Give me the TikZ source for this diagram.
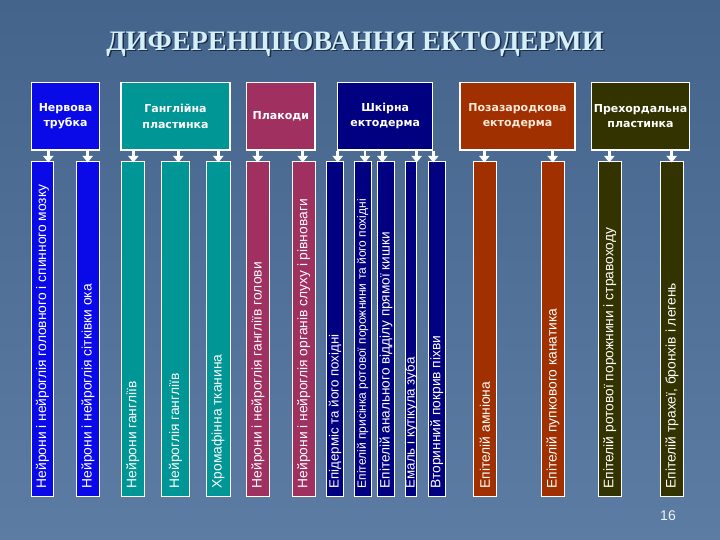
\documentclass[tikz,border=0pt]{standalone}
\usepackage{fontspec}
\setmainfont{Liberation Sans}
\newfontfamily\titlefont{Liberation Serif}
\newfontfamily\hdrfont{DejaVu Sans}
\usetikzlibrary{arrows.meta}
\definecolor{bgtop}{RGB}{68,100,140}
\definecolor{bgbot}{RGB}{92,124,164}
\definecolor{titlec}{RGB}{214,240,250}
\definecolor{shadowc}{RGB}{30,45,70}
\definecolor{cnerv}{RGB}{10,10,232}
\definecolor{cgang}{RGB}{0,150,150}
\definecolor{cplak}{RGB}{160,48,96}
\definecolor{cskin}{RGB}{0,0,128}
\definecolor{cextra}{RGB}{160,48,0}
\definecolor{cprech}{RGB}{51,51,0}
\definecolor{cream}{RGB}{255,232,215}
\tikzset{
  hdr/.style={draw=white, line width=1.2pt, inner sep=2pt, minimum height=67.7pt,
    align=center, text=white, font=\hdrfont\bfseries\fontsize{11}{15.5}\selectfont},
  barbox/.style={draw=white, line width=1pt, minimum height=334pt, inner sep=0pt},
  bartext/.style={rotate=90, anchor=west, inner sep=0pt, text=white,
    font=\fontsize{13.8}{15}\selectfont},
  arr/.style={draw=white, line width=2.6pt, -{Triangle[width=10pt,length=6.5pt]}, shorten >=-1pt}
}
\begin{document}
\begin{tikzpicture}[x=1pt,y=-1pt]
\shade[top color=bgtop, bottom color=bgbot] (0,0) rectangle (720,540);
\useasboundingbox (0,0) rectangle (720,540);
% title
\node[text=shadowc, font=\titlefont\bfseries\fontsize{28.2}{30}\selectfont] at (356.5,45.5) {ДИФЕРЕНЦІЮВАННЯ ЕКТОДЕРМИ};
\node[text=titlec, font=\titlefont\bfseries\fontsize{28.2}{30}\selectfont] (title) at (355,44) {ДИФЕРЕНЦІЮВАННЯ ЕКТОДЕРМИ};
% header boxes
\node[hdr, fill=cnerv, minimum width=67.6pt] (nt) at (65.5,116.2) {Нервова\\трубка};
\node[hdr, fill=cgang, minimum width=109pt] (gp) at (175.5,116.2) {Ганглійна\\пластинка};
\node[hdr, fill=cplak, minimum width=68.3pt] (pl) at (280.8,116.2) {Плакоди};
\node[hdr, fill=cskin, minimum width=95pt] (se) at (385.2,116.2) {Шкірна\\ектодерма};
\node[hdr, fill=cextra, minimum width=115pt, text=cream] (pe) at (517.5,116.2) {Позазародкова\\ектодерма};
\node[hdr, fill=cprech, minimum width=95.6pt] (pp) at (640.5,116.2) {Прехордальна\\пластинка};
% bars
\foreach \n/\cx/\w/\c in {b1/42.5/21.6/cnerv, b2/88/22.6/cnerv, b3/132.7/23.3/cgang, b4/175.5/27.6/cgang,
  b5/218/24/cgang, b6/258/22.6/cplak, b7/303.7/22.7/cplak, b8/335/16.6/cskin, b9/362.7/16.7/cskin,
  b10/386/16.6/cskin, b11/411.2/11/cskin, b12/436.7/16.7/cskin, b13/484.7/22.7/cextra,
  b14/553/22.6/cextra, b15/609.7/22.7/cprech, b16/672/22.6/cprech}
  \node[barbox, fill=\c, minimum width=\w pt] (\n) at (\cx,329) {};
% bar texts
\node[bartext] (t1) at ([yshift=8pt]b1.south) {Нейрони і нейроглія головного і спинного мозку};
\node[bartext] (t2) at ([yshift=8pt]b2.south) {Нейрони і нейроглія сітківки ока};
\node[bartext] (t3) at ([yshift=8pt]b3.south) {Нейрони гангліїв};
\node[bartext] (t4) at ([yshift=8pt]b4.south) {Нейроглія гангліїв};
\node[bartext] (t5) at ([yshift=8pt]b5.south) {Хромафінна тканина};
\node[bartext] (t6) at ([yshift=8pt]b6.south) {Нейрони і нейроглія гангліїв голови};
\node[bartext] (t7) at ([yshift=8pt]b7.south) {Нейрони і нейроглія органів слуху і рівноваги};
\node[bartext, font=\fontsize{13.3}{14}\selectfont] (t8) at ([yshift=8pt]b8.south) {Епідерміс та його похідні};
\node[bartext, font=\fontsize{12}{13}\selectfont] (t9) at ([yshift=8pt]b9.south) {Епітелій присінка ротової порожнини та його похідні};
\node[bartext, font=\fontsize{13.6}{14}\selectfont] (t10) at ([yshift=8pt]b10.south) {Епітелій анального відділу прямої кишки};
\node[bartext, font=\fontsize{13.3}{14}\selectfont] (t11) at ([yshift=8pt]b11.south) {Емаль і кутікула зуба};
\node[bartext] (t12) at ([yshift=8pt]b12.south) {Вторинний покрив піхви};
\node[bartext] (t13) at ([yshift=8pt]b13.south) {Епітелій амніона};
\node[bartext] (t14) at ([yshift=8pt]b14.south) {Епітелій пупкового канатика};
\node[bartext] (t15) at ([yshift=8pt]b15.south) {Епітелій ротової порожнини і стравоходу};
\node[bartext] (t16) at ([yshift=8pt]b16.south) {Епітелій трахеї, бронхів і легень};
% arrows
\foreach \h/\b/\x in {nt/b1/48.3, nt/b2/87.7, gp/b3/133.3, gp/b4/178.3, gp/b5/218.3,
  pl/b6/257.7, pl/b7/302.7, se/b8/337.7, se/b9/365, se/b10/382.3, se/b11/416.7, se/b12/433.3,
  pe/b13/484.3, pe/b14/552.7, pp/b15/609.3, pp/b16/671.7} {
  \coordinate (ax) at (\x,0);
  \draw[arr] (ax |- \h.south) -- (ax |- \b.north);
}
% slide number
\node[text=white!90!bgbot, font=\fontsize{14}{16}\selectfont] (num) at (668,516) {16};
\end{tikzpicture}
\end{document}
